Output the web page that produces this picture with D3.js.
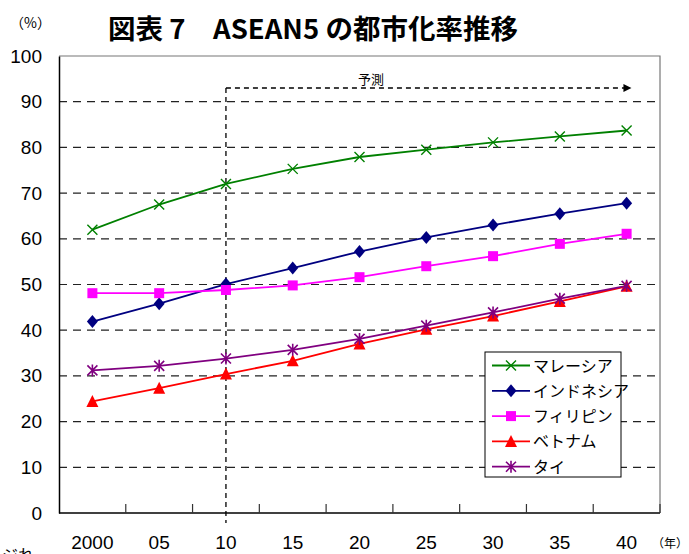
<!DOCTYPE html>
<html>
<head>
<meta charset="utf-8">
<script src="https://cdn.jsdelivr.net/npm/d3@7"></script>
<style>
  html, body { margin: 0; padding: 0; background: #fff; }
  svg { display: block; }
</style>
</head>
<body>
<svg id="chart" width="689" height="554"></svg>
<script>
// Urbanization rate (%) by year, ASEAN5
const years = ["2000", "05", "10", "15", "20", "25", "30", "35", "40"];
const yTicks = [0, 10, 20, 30, 40, 50, 60, 70, 80, 90, 100];

const malaysia    = [62.0, 67.5, 72.0, 75.3, 77.9, 79.5, 81.1, 82.4, 83.7];
const indonesia   = [41.9, 45.8, 50.1, 53.6, 57.2, 60.3, 63.0, 65.5, 67.8];
const philippines = [48.1, 48.1, 48.8, 49.8, 51.6, 54.0, 56.2, 58.9, 61.1];
const vietnam     = [24.4, 27.3, 30.4, 33.3, 37.0, 40.2, 43.1, 46.3, 49.6];
const thailand    = [31.2, 32.2, 33.8, 35.7, 38.1, 41.0, 43.9, 46.9, 49.7];

const seriesNames = ["マレーシア", "インドネシア", "フィリピン", "ベトナム", "タイ"];
const seriesColors = ["#008000", "#000080", "#FF00FF", "#FF0000", "#800080"];
const seriesMarkers = ["cross", "diamond", "square", "triangle", "star"];
const seriesValues = [malaysia, indonesia, philippines, vietnam, thailand];

const forecastStart = "10";
const forecastLabel = "予測";

const svg = d3.select("#chart");
const margin = { left: 59, right: 29, top: 56, bottom: 41 };
const W = 689, H = 554;
const plotW = W - margin.left - margin.right;
const plotH = H - margin.top - margin.bottom;

const x = d3.scaleBand().domain(years).range([margin.left, margin.left + plotW]);
const y = d3.scaleLinear().domain([0, 100]).range([margin.top + plotH, margin.top]);
const cx = d => x(d) + x.bandwidth() / 2;

const jp = "'Noto Sans CJK JP', sans-serif";
const num = "'Liberation Sans', Arial, sans-serif";

// Title
svg.append("text")
  .attr("x", 108).attr("y", 39)
  .attr("font-family", jp).attr("font-weight", 700).attr("font-size", 27)
  .attr("textLength", 410).attr("lengthAdjust", "spacingAndGlyphs")
  .attr("fill", "#000")
  .text("図表 7　ASEAN5 の都市化率推移");

// Unit labels
svg.append("text")
  .attr("x", 10).attr("y", 28)
  .attr("font-family", jp).attr("font-size", 14).attr("fill", "#000")
  .text("（%）");
svg.append("text")
  .attr("x", 652).attr("y", 548)
  .attr("font-family", jp).attr("font-size", 12).attr("fill", "#000")
  .text("（年）");

// Horizontal dashed gridlines
svg.append("g")
  .selectAll("line")
  .data(yTicks.filter(t => t > 0 && t < 100))
  .join("line")
  .attr("x1", margin.left).attr("x2", margin.left + plotW)
  .attr("y1", d => y(d)).attr("y2", d => y(d))
  .attr("stroke", "#222").attr("stroke-width", 1.2)
  .attr("stroke-dasharray", "8,6");

// Plot frame: top and right
svg.append("path")
  .attr("d", `M${margin.left},${margin.top}H${margin.left + plotW}V${margin.top + plotH}`)
  .attr("fill", "none").attr("stroke", "#777").attr("stroke-width", 1.2);

// Y axis
const yAxis = d3.axisLeft(y).tickValues(yTicks).tickSize(0).tickPadding(17);
const gy = svg.append("g").attr("transform", `translate(${margin.left},0)`).call(yAxis);
gy.select(".domain").attr("stroke", "#000").attr("stroke-width", 1.5);
gy.selectAll("text")
  .attr("font-family", num).attr("font-size", 19).attr("fill", "#000");

// X axis with inward ticks at category boundaries
const gx = svg.append("g").attr("transform", `translate(0,${margin.top + plotH})`);
gx.append("line")
  .attr("x1", margin.left).attr("x2", margin.left + plotW)
  .attr("stroke", "#000").attr("stroke-width", 1.5);
gx.selectAll("line.tick")
  .data(years)
  .join("line").attr("class", "tick")
  .attr("x1", d => x(d) + x.bandwidth()).attr("x2", d => x(d) + x.bandwidth())
  .attr("y1", 0).attr("y2", -9)
  .attr("stroke", "#333").attr("stroke-width", 1.2);
gx.selectAll("text")
  .data(years)
  .join("text")
  .attr("x", d => cx(d)).attr("y", 36)
  .attr("text-anchor", "middle")
  .attr("font-family", num).attr("font-size", 19).attr("fill", "#000")
  .text(d => d);

// Forecast marker: vertical dashed line and arrow
const fx = cx(forecastStart);
const arrowY = 88;
const arrowEnd = cx(years[years.length - 1]) + 4;
svg.append("defs").append("marker")
  .attr("id", "arrowhead")
  .attr("viewBox", "0 0 10 10").attr("refX", 9).attr("refY", 5)
  .attr("markerWidth", 9).attr("markerHeight", 8).attr("markerUnits", "userSpaceOnUse")
  .attr("orient", "auto")
  .append("path").attr("d", "M0,0L10,5L0,10Z").attr("fill", "#000");
svg.append("line")
  .attr("x1", fx).attr("x2", fx)
  .attr("y1", arrowY).attr("y2", margin.top + plotH + 10)
  .attr("stroke", "#000").attr("stroke-width", 1.3).attr("stroke-dasharray", "5,4");
svg.append("line")
  .attr("x1", fx).attr("x2", arrowEnd)
  .attr("y1", arrowY).attr("y2", arrowY)
  .attr("stroke", "#000").attr("stroke-width", 1.3).attr("stroke-dasharray", "5,4")
  .attr("marker-end", "url(#arrowhead)");
svg.append("text")
  .attr("x", 371).attr("y", 84)
  .attr("text-anchor", "middle")
  .attr("font-family", jp).attr("font-size", 13).attr("fill", "#000")
  .text(forecastLabel);

// Marker shapes
function drawMarker(g, type, color, px, py, s) {
  if (type === "cross") {
    g.append("path")
      .attr("d", `M${px - s},${py - s}L${px + s},${py + s}M${px - s},${py + s}L${px + s},${py - s}`)
      .attr("stroke", color).attr("stroke-width", 1.4).attr("fill", "none");
  } else if (type === "star") {
    g.append("path")
      .attr("d", `M${px - s},${py - s}L${px + s},${py + s}M${px - s},${py + s}L${px + s},${py - s}M${px},${py - s - 1}L${px},${py + s + 1}`)
      .attr("stroke", color).attr("stroke-width", 1.6).attr("fill", "none");
  } else if (type === "diamond") {
    g.append("path")
      .attr("d", `M${px},${py - s - 1}L${px + s},${py}L${px},${py + s + 1}L${px - s},${py}Z`)
      .attr("fill", color);
  } else if (type === "square") {
    g.append("rect")
      .attr("x", px - s).attr("y", py - s).attr("width", 2 * s).attr("height", 2 * s)
      .attr("fill", color);
  } else if (type === "triangle") {
    g.append("path")
      .attr("d", `M${px},${py - s - 1}L${px + s + 0.5},${py + s}L${px - s - 0.5},${py + s}Z`)
      .attr("fill", color);
  }
}
const markerSize = { cross: 5, star: 5, diamond: 5.5, square: 5, triangle: 5.5 };

// Series lines and markers
const line = d3.line().x((d, i) => cx(years[i])).y(d => y(d));
seriesValues.forEach((vals, k) => {
  const g = svg.append("g");
  g.append("path")
    .attr("d", line(vals))
    .attr("fill", "none").attr("stroke", seriesColors[k]).attr("stroke-width", 1.8);
  vals.forEach((v, i) => {
    drawMarker(g, seriesMarkers[k], seriesColors[k], cx(years[i]), y(v), markerSize[seriesMarkers[k]]);
  });
});

// Legend
const lg = svg.append("g").attr("transform", "translate(485,352)");
lg.append("rect")
  .attr("width", 136).attr("height", 125)
  .attr("fill", "#fff").attr("stroke", "#000").attr("stroke-width", 1);
seriesNames.forEach((name, k) => {
  const ly = 13.5 + k * 25.3;
  lg.append("line")
    .attr("x1", 7).attr("x2", 45).attr("y1", ly).attr("y2", ly)
    .attr("stroke", seriesColors[k]).attr("stroke-width", 1.8);
  drawMarker(lg, seriesMarkers[k], seriesColors[k], 26, ly, markerSize[seriesMarkers[k]]);
  lg.append("text")
    .attr("x", 48).attr("y", ly + 6)
    .attr("font-family", jp).attr("font-size", 16).attr("fill", "#000")
    .text(name);
});

// Text from the following paragraph, cut at the page edge
svg.append("text")
  .attr("x", 2).attr("y", 561)
  .attr("font-family", jp).attr("font-size", 16).attr("fill", "#000")
  .text("ジれ");
</script>
</body>
</html>
